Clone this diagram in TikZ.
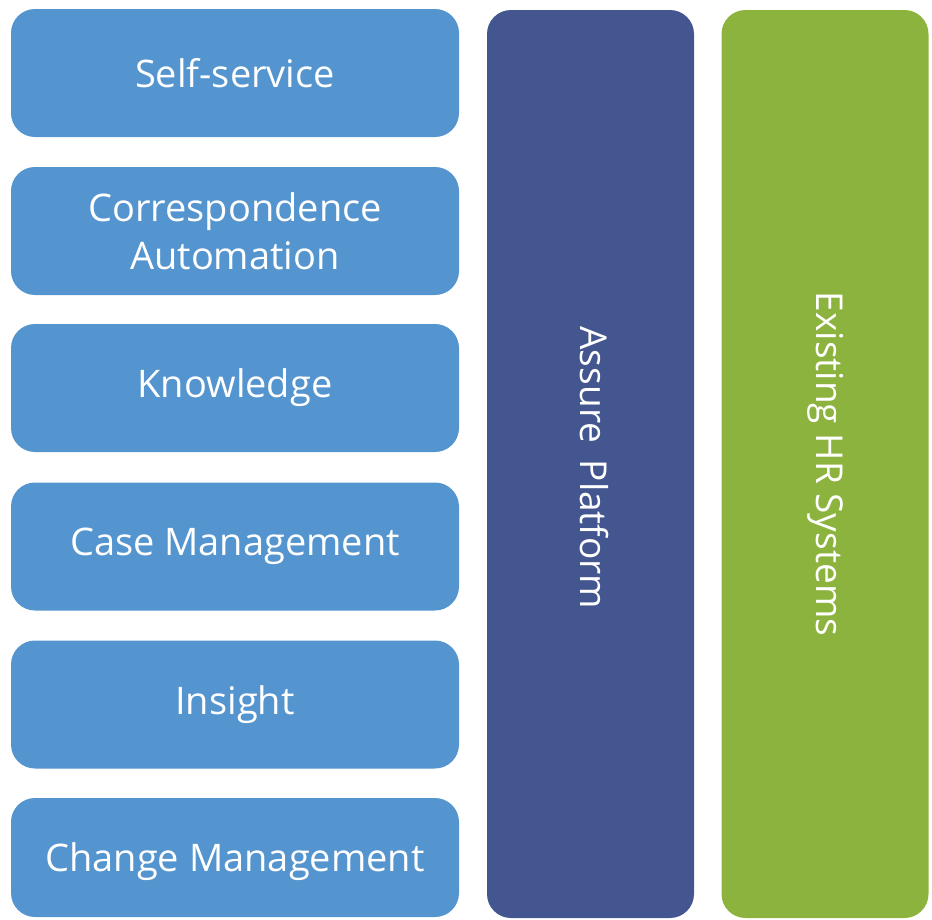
\documentclass[tikz,border=0pt]{standalone}
\usepackage{fontspec}
\setmainfont{Open Sans}
\definecolor{lblue}{RGB}{84,148,207}
\definecolor{dblue}{RGB}{68,86,143}
\definecolor{lgreen}{RGB}{141,179,63}
\begin{document}
\begin{tikzpicture}[x=1pt,y=-1pt,
  item/.style={fill=lblue, draw=none, rounded corners=24pt, inner sep=0pt,
    minimum width=448pt, minimum height=128pt, text=white, align=center,
    font=\fontsize{38}{48}\selectfont},
  column/.style={draw=none, rounded corners=24pt, inner sep=0pt,
    minimum width=908pt, minimum height=207pt, rotate=-90},
  vlabel/.style={rotate=-90, text=white, inner sep=0pt,
    font=\fontsize{37}{48}\selectfont}]
\useasboundingbox (0,0) rectangle (932,919);
\node[item] (ss) at (235,73) {Self-service};
\node[item] (ca) at (235,231) {Correspondence\\Automation};
\node[item] (kn) at (235,388) {Knowledge};
\node[item] (cm) at (235,546.5) {Case Management};
\node[item] (in) at (235,704.5) {Insight};
\node[item, minimum height=119pt] (ch) at (235,857.5) {};
\node[item, fill=none, minimum width=0pt, minimum height=0pt] (chl) at ([yshift=-4pt]ch.center) {Change Management};
\node[column, fill=dblue] (ap) at (590.5,464) {};
\node[column, fill=lgreen] (hr) at (825,464) {};
\node[vlabel] (apl) at ([xshift=4pt,yshift=-4pt]ap.center) {Assure\hspace{0.45em}Platform};
\node[vlabel] (hrl) at ([xshift=1pt]hr.center) {Existing HR Systems};
\end{tikzpicture}
\end{document}
